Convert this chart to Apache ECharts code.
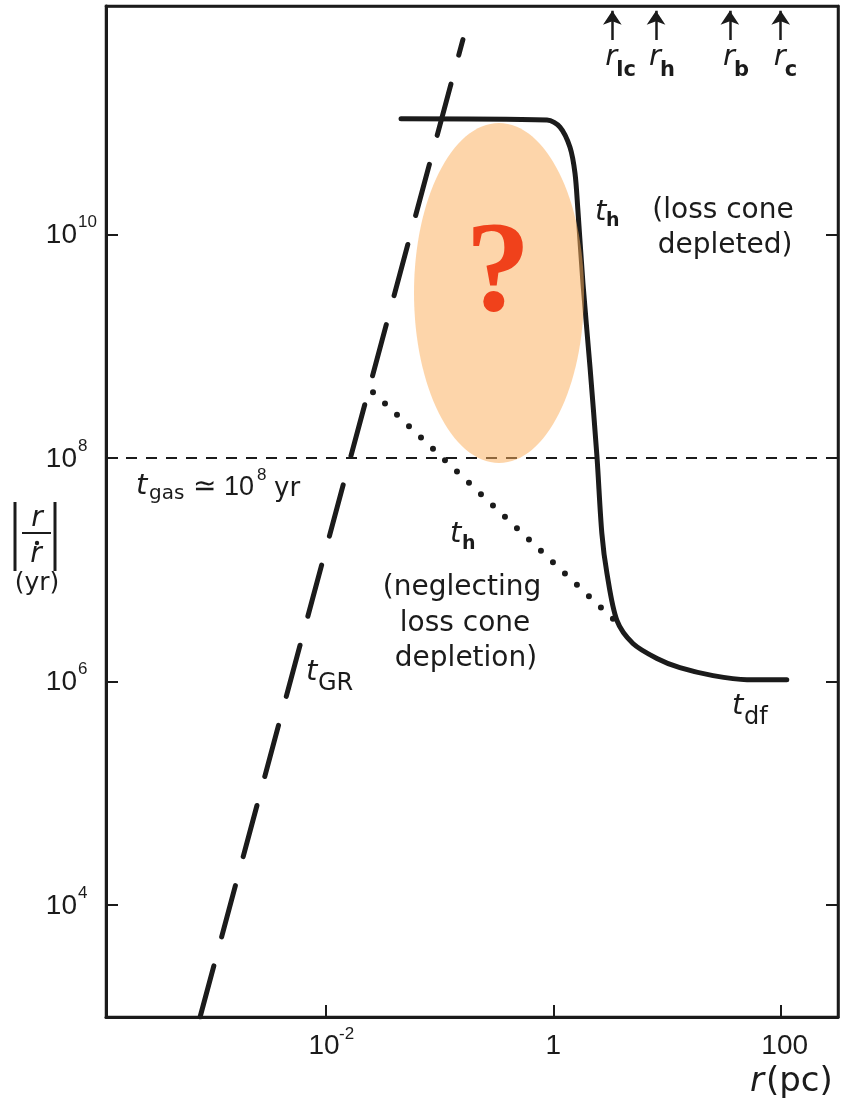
<!DOCTYPE html>
<html>
<head>
<meta charset="utf-8">
<script src="https://cdn.jsdelivr.net/npm/echarts@6/dist/echarts.min.js"></script>
<style>
  html, body { margin: 0; padding: 0; background: #ffffff; }
  #chart { width: 844px; height: 1102px; }
</style>
</head>
<body>
<div id="chart"></div>
<script>
// Axis extents: radius r in pc, timescale |r / r-dot| in yr
const rRange = [1.16e-4, 319];
const tRange = [1e3, 1.1e12];
const xTickValues = [0.01, 1, 100];
const yTickValues = [1e4, 1e6, 1e8, 1e10];

// t_h with the loss cone depleted, merging into dynamical friction t_df
const rHole = [0.0457, 0.879, 1.143, 1.40, 1.55, 1.64, 1.82, 2.10, 2.42, 2.67, 2.96, 3.62, 5.01, 8.15, 12.97, 25.4, 50.5, 113];
const tHole = [1.08e11, 1.05e11, 9.1e10, 6.0e10, 3.5e10, 1.69e10, 3.66e9, 6.48e8, 1.01e8, 2.11e7, 9.27e6, 3.52e6, 2.19e6, 1.61e6, 1.33e6, 1.13e6, 1.04e6, 1.04e6];

// gravitational-radiation timescale t_GR
const rGR = [7.8e-4, 0.160];
const tGR = [1.0e3, 5.5e11];

// t_h neglecting loss cone depletion
const rFull = [0.0259, 3.70];
const tFull = [3.87e8, 3.30e6];

// gas timescale
const tGas = 1e8;

// characteristic radii marked along the top edge
const radiiNames = ['lc', 'h', 'b', 'c'];
const radiiValues = [3.3, 8.0, 35.7, 100];
const radiiArrowFoot = 5.46e11;
const radiiArrowTip = 1.0e12;

const INK = '#1b1b1b';
const SANS = 'DejaVu Sans';
const NUM = 'Liberation Sans';

function pairs(xs, ys) { return xs.map((x, i) => [x, ys[i]]); }

const chart = echarts.init(document.getElementById('chart'), null, { renderer: 'canvas' });

chart.setOption({
  animation: false,
  backgroundColor: '#ffffff',
  grid: { left: 106, right: 6, top: 6, bottom: 85, show: true, borderColor: INK, borderWidth: 2.5 },
  xAxis: [{
    type: 'log', logBase: 10, min: rRange[0], max: rRange[1], position: 'bottom',
    axisLine: { show: true, lineStyle: { color: INK, width: 3 } },
    axisTick: { show: true, inside: true, length: 12, lineStyle: { color: INK, width: 2 }, customValues: xTickValues },
    axisLabel: { show: false },
    splitLine: { show: false }, minorTick: { show: false }
  }, {
    type: 'log', logBase: 10, min: rRange[0], max: rRange[1], position: 'top',
    axisLine: { show: true, lineStyle: { color: INK, width: 2.5 } },
    axisTick: { show: false }, axisLabel: { show: false }, splitLine: { show: false }
  }],
  yAxis: [{
    type: 'log', logBase: 10, min: tRange[0], max: tRange[1], position: 'left',
    axisLine: { show: true, lineStyle: { color: INK, width: 3 } },
    axisTick: { show: true, inside: true, length: 12, lineStyle: { color: INK, width: 2 }, customValues: yTickValues },
    axisLabel: { show: false },
    splitLine: { show: false }
  }, {
    type: 'log', logBase: 10, min: tRange[0], max: tRange[1], position: 'right',
    axisLine: { show: true, lineStyle: { color: INK, width: 2.5 } },
    axisTick: { show: true, inside: true, length: 12, lineStyle: { color: INK, width: 2 }, customValues: yTickValues },
    axisLabel: { show: false }, splitLine: { show: false }
  }],
  series: [
    {
      name: 't_gas', type: 'line', xAxisIndex: 0, yAxisIndex: 0,
      data: [[rRange[0], tGas], [rRange[1], tGas]],
      showSymbol: false, silent: true,
      lineStyle: { color: INK, width: 2, type: [11, 9] }, z: 2
    },
    {
      name: 't_h', type: 'line', xAxisIndex: 0, yAxisIndex: 0,
      data: pairs(rHole, tHole), showSymbol: false, smooth: 0.3, silent: true,
      lineStyle: { color: INK, width: 5, join: 'round', cap: 'round' }, z: 3
    },
    {
      name: 't_GR', type: 'line', xAxisIndex: 0, yAxisIndex: 0,
      data: pairs(rGR, tGR), showSymbol: false, silent: true,
      lineStyle: { color: INK, width: 5, type: [53, 30], cap: 'round' }, z: 3
    },
    {
      name: 't_h (neglecting loss cone depletion)', type: 'line', xAxisIndex: 0, yAxisIndex: 0,
      data: pairs(rFull, tFull), showSymbol: false, silent: true,
      lineStyle: { color: INK, width: 6, type: [0, 16.5], cap: 'round' }, z: 3
    },
    {
      name: 'radii', type: 'lines', coordinateSystem: 'cartesian2d', xAxisIndex: 0, yAxisIndex: 0,
      data: radiiValues.map(v => ({ coords: [[v, radiiArrowFoot], [v, radiiArrowTip]] })),
      symbol: ['none', 'arrow'], symbolSize: 14, silent: true,
      lineStyle: { color: INK, width: 2.5, opacity: 1, curveness: 0 }, z: 4
    }
  ]
});

// annotation text
function text(x, y, str, font, opts) {
  return {
    type: 'text', x: x, y: y, z: 50, silent: true,
    style: Object.assign({ text: str, font: font, fill: INK, align: 'left', verticalAlign: 'middle' }, opts || {})
  };
}

const els = [];

// tick labels as powers of ten, placed through the axis scales
const exponent = v => Math.round(Math.log10(v));
yTickValues.forEach(v => {
  const py = chart.convertToPixel({ yAxisIndex: 0 }, v);
  els.push(text(77, py + 1, '10', '28px ' + NUM, { align: 'right' }));
  els.push(text(78, py - 12, String(exponent(v)), '17px ' + NUM));
});
xTickValues.forEach(v => {
  const px = chart.convertToPixel({ xAxisIndex: 0 }, v);
  const e = exponent(v);
  if (e === 0) {
    els.push(text(px, 1046, '1', '28px ' + NUM, { align: 'center' }));
  } else if (e === 2) {
    els.push(text(px + 4, 1046, '100', '28px ' + NUM, { align: 'center' }));
  } else {
    els.push(text(px - 2, 1046, '10', '28px ' + NUM, { align: 'center' }));
    els.push(text(px + 13, 1034, String(e), '17px ' + NUM));
  }
});

// y-axis quantity |r / r-dot| (yr)
els.push({ type: 'line', z: 50, shape: { x1: 15, y1: 502, x2: 15, y2: 571 }, style: { stroke: INK, lineWidth: 3 } });
els.push({ type: 'line', z: 50, shape: { x1: 55, y1: 502, x2: 55, y2: 571 }, style: { stroke: INK, lineWidth: 3 } });
els.push(text(37, 519, 'r', 'italic 28px ' + SANS, { align: 'center' }));
els.push({ type: 'line', z: 50, shape: { x1: 22, y1: 533, x2: 51, y2: 533 }, style: { stroke: INK, lineWidth: 2 } });
els.push({ type: 'circle', z: 50, shape: { cx: 37, cy: 543, r: 2.2 }, style: { fill: INK } });
els.push(text(36, 555, 'r', 'italic 28px ' + SANS, { align: 'center' }));
els.push(text(37, 583, '(yr)', '25px ' + SANS, { align: 'center' }));

// x-axis quantity
els.push(text(764, 1082, 'r', 'italic 34px ' + SANS, { align: 'right' }));
els.push(text(766, 1082, '(pc)', '34px ' + SANS, { align: 'left' }));

// gas timescale label
els.push(text(136, 486, 't', 'italic 29px ' + SANS));
els.push(text(149, 494, 'gas', '20px ' + SANS));
els.push(text(193, 488, '\u2243', '28px ' + SANS));
els.push(text(224, 488, '10', '27px ' + NUM));
els.push(text(257, 475, '8', '17px ' + NUM));
els.push(text(274, 489, 'yr', '26px ' + SANS));

// loss cone depleted t_h
els.push(text(595, 212, 't', 'italic 29px ' + SANS));
els.push(text(606, 221, 'h', 'bold 19px ' + SANS));
els.push(text(723, 211, '(loss cone', '28px ' + SANS, { align: 'center' }));
els.push(text(725, 246, 'depleted)', '28px ' + SANS, { align: 'center' }));

// t_h neglecting the loss cone
els.push(text(450, 534, 't', 'italic 29px ' + SANS));
els.push(text(462, 544, 'h', 'bold 19px ' + SANS));
els.push(text(462, 588, '(neglecting', '28px ' + SANS, { align: 'center' }));
els.push(text(465, 624, 'loss cone', '28px ' + SANS, { align: 'center' }));
els.push(text(466, 659, 'depletion)', '28px ' + SANS, { align: 'center' }));

// t_GR and t_df
els.push(text(306, 672, 't', 'italic 29px ' + SANS));
els.push(text(318, 684, 'GR', '24px ' + SANS));
els.push(text(732, 706, 't', 'italic 29px ' + SANS));
els.push(text(744, 718, 'df', '24px ' + SANS));

// labels under the radius arrows
radiiValues.forEach((v, i) => {
  const px = chart.convertToPixel({ xAxisIndex: 0 }, v);
  els.push(text(px - 7, 57, 'r', 'italic 29px ' + SANS));
  els.push(text(px + 4, 71, radiiNames[i], 'bold 21px ' + SANS));
});

// highlighted region with the open question
els.push({ type: 'ellipse', z: 100, silent: true, shape: { cx: 499, cy: 293, rx: 85, ry: 170 }, style: { fill: 'rgba(251,174,92,0.52)' } });
const qMark = text(498, 276, '?', 'bold 130px Liberation Serif', { align: 'center', fill: '#f0411b' });
qMark.z = 101;
els.push(qMark);

chart.setOption({ graphic: { elements: els } });
</script>
</body>
</html>
